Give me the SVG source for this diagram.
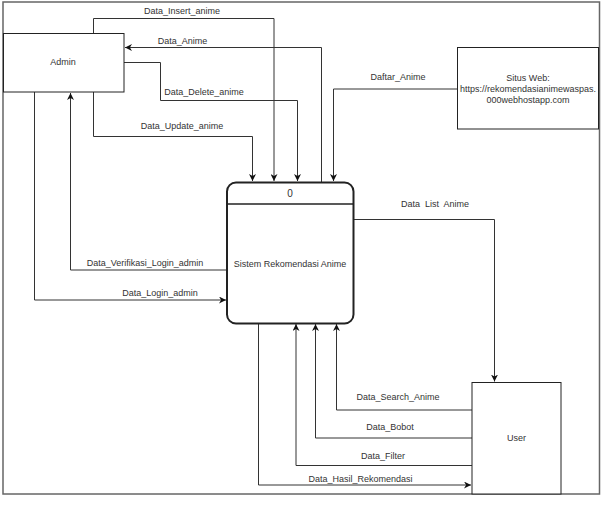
<svg xmlns="http://www.w3.org/2000/svg" width="602" height="505" viewBox="0 0 602 505">
<defs>
<marker id="arr" viewBox="0 0 10 10" refX="10" refY="5" markerWidth="7" markerHeight="7" orient="auto" markerUnits="userSpaceOnUse">
<path d="M0,0 L10,5 L0,10 L3,5 Z" fill="#111"/>
</marker>
<style>
text{font-family:"Liberation Sans",Arial,sans-serif;font-size:9px;fill:#333;text-anchor:middle}
.box{fill:#fff;stroke:#222;stroke-width:1}
.ln{fill:none;stroke:#333;stroke-width:1}
</style>
</defs>
<rect x="0" y="0" width="602" height="505" fill="#fff"/>
<rect x="3" y="2" width="596.5" height="492" fill="none" stroke="#666" stroke-width="1.5"/>

<g id="connectors">
<path class="ln" d="M93.5,33 V18.5 H274 V181" marker-end="url(#arr)"/>
<path class="ln" d="M321.5,182 V47.5 H125" marker-end="url(#arr)"/>
<path class="ln" d="M124,62.5 H160.5 V100.5 H297.5 V181" marker-end="url(#arr)"/>
<path class="ln" d="M93.5,92 V136.5 H252.5 V181" marker-end="url(#arr)"/>
<path class="ln" d="M457,89 H333.5 V181" marker-end="url(#arr)"/>
<path class="ln" d="M227,270 H70.5 V93" marker-end="url(#arr)"/>
<path class="ln" d="M34.5,92 V300 H226" marker-end="url(#arr)"/>
<path class="ln" d="M354,219.5 H494.5 V381.5" marker-end="url(#arr)"/>
<path class="ln" d="M472,410 H336.5 V324" marker-end="url(#arr)"/>
<path class="ln" d="M472,438 H315.5 V324" marker-end="url(#arr)"/>
<path class="ln" d="M472,465.5 H296 V324" marker-end="url(#arr)"/>
<path class="ln" d="M258.5,323 V485 H471" marker-end="url(#arr)"/>
<text x="182" y="13.5">Data_Insert_anime</text>
<text x="182.5" y="43.5">Data_Anime</text>
<text x="204" y="95">Data_Delete_anime</text>
<text x="182" y="128.5">Data_Update_anime</text>
<text x="398" y="80">Daftar_Anime</text>
<text x="145" y="266">Data_Verifikasi_Login_admin</text>
<text x="160" y="296">Data_Login_admin</text>
<text x="435" y="207" xml:space="preserve">Data  List  Anime</text>
<text x="398" y="400">Data_Search_Anime</text>
<text x="390" y="430">Data_Bobot</text>
<text x="383" y="459">Data_Filter</text>
<text x="360.5" y="481.5">Data_Hasil_Rekomendasi</text>
</g>

<g id="admin">
<rect class="box" x="3.5" y="33.5" width="120.5" height="58.5"/>
<text x="63" y="65">Admin</text>
</g>

<g id="situs-web">
<rect class="box" x="457.5" y="47.5" width="141" height="81.5"/>
<text x="528" y="81">Situs Web:</text>
<text x="528" y="92">https://rekomendasianimewaspas.</text>
<text x="528" y="103">000webhostapp.com</text>
</g>

<g id="process">
<rect x="227" y="182.5" width="126.5" height="141" rx="9" ry="9" fill="#fff" stroke="#222" stroke-width="2"/>
<line x1="227" y1="204" x2="353.5" y2="204" stroke="#222" stroke-width="1.5"/>
<text x="290" y="197" style="font-size:10px">0</text>
<text x="290" y="266.5">Sistem Rekomendasi Anime</text>
</g>

<g id="user">
<rect class="box" x="472" y="382.5" width="89" height="111.5"/>
<text x="516.5" y="441">User</text>
</g>
</svg>
